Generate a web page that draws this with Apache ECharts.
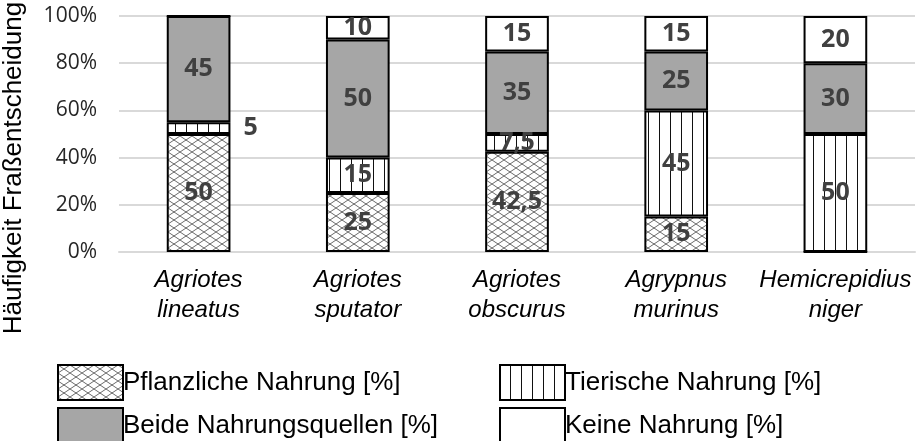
<!DOCTYPE html>
<html><head><meta charset="utf-8">
<script src="https://cdn.jsdelivr.net/npm/echarts@6/dist/echarts.min.js"></script>
<style>html,body{margin:0;padding:0;background:#fff}#c{width:916px;height:441px}</style>
</head><body><div id="c"></div>
<script>
var categories = ['Agriotes\nlineatus','Agriotes\nsputator','Agriotes\nobscurus','Agrypnus\nmurinus','Hemicrepidius\nniger'];
var seriesNames = ['Pflanzliche Nahrung [%]','Tierische Nahrung [%]','Beide Nahrungsquellen [%]','Keine Nahrung [%]'];
var pflanzlich = [50, 25, 42.5, 15, 0];
var tierisch = [5, 15, 7.5, 45, 50];
var beide = [45, 50, 35, 25, 30];
var keine = [0, 10, 15, 15, 20];
var yTicks = [0, 20, 40, 60, 80, 100];
var yAxisTitle = 'Häufigkeit Fraßentscheidung';

function crossPattern(){
  var c = document.createElement('canvas'); c.width = 12; c.height = 8;
  var g = c.getContext('2d');
  g.fillStyle = '#fff'; g.fillRect(0,0,12,8);
  g.strokeStyle = '#444'; g.lineWidth = 0.8;
  g.beginPath(); g.moveTo(0,0); g.lineTo(12,8); g.moveTo(0,8); g.lineTo(12,0); g.stroke();
  return c;
}
function vertPattern(){
  var c = document.createElement('canvas'); c.width = 11; c.height = 10;
  var g = c.getContext('2d');
  g.fillStyle = '#fff'; g.fillRect(0,0,11,10);
  g.fillStyle = '#111'; g.fillRect(10,0,1.3,10);
  return c;
}
var fills = [
  {image: crossPattern(), repeat: 'repeat'},
  {image: vertPattern(), repeat: 'repeat'},
  '#a6a6a6',
  '#ffffff'
];
var values = [pflanzlich, tierisch, beide, keine];

var series = values.map(function(arr, si){
  return {
    name: seriesNames[si], type: 'bar', stack: 'a', barWidth: '40%',
    itemStyle: {color: fills[si], borderColor: '#000', borderWidth: 2},
    label: {show: true, position: 'inside', fontFamily: 'Open Sans', fontWeight: 'bold', fontSize: 25, color: '#404040',
      formatter: function(p){ return p.value ? String(p.value).replace('.', ',') : ''; }},
    data: arr.map(function(v){
      return v > 0 && v < 6 ? {value: v, label: {position: 'right', distance: 13}} : v;
    })
  };
});

var legendText = {fontFamily: 'Liberation Sans', fontSize: 26, color: '#000', padding: [0,0,0,-5]};
var legendBase = {orient: 'vertical', top: 364, height: 120, itemWidth: 65, itemHeight: 35, itemGap: 6, padding: 0, icon: 'rect', textStyle: legendText};
var chart = echarts.init(document.getElementById('c'));
chart.setOption({
  animation: false,
  grid: {left: 119, right: 1, top: 16, bottom: 189},
  legend: [
    Object.assign({}, legendBase, {data: [seriesNames[0], seriesNames[2]], left: 57}),
    Object.assign({}, legendBase, {data: [seriesNames[1], seriesNames[3]], left: 499})
  ],
  xAxis: {type: 'category', data: categories,
    axisLine: {lineStyle: {color: '#d9d9d9', width: 2}}, axisTick: {show: false},
    axisLabel: {margin: 13, fontFamily: 'Liberation Sans', fontStyle: 'italic', fontSize: 24, lineHeight: 30, color: '#000', interval: 0}},
  yAxis: {type: 'value', min: yTicks[0], max: yTicks[yTicks.length-1], interval: 20,
    axisLabel: {formatter: '{value}%', margin: 22, fontFamily: 'Open Sans', fontSize: 21, color: '#262626'},
    splitLine: {lineStyle: {color: '#d9d9d9', width: 2}}},
  graphic: [{type: 'text', x: 14, y: 168, rotation: Math.PI/2,
    style: {text: yAxisTitle, fontFamily: 'Liberation Sans', fontSize: 26, fill: '#000', align: 'center', verticalAlign: 'middle'}}],
  series: series
});
</script></body></html>
